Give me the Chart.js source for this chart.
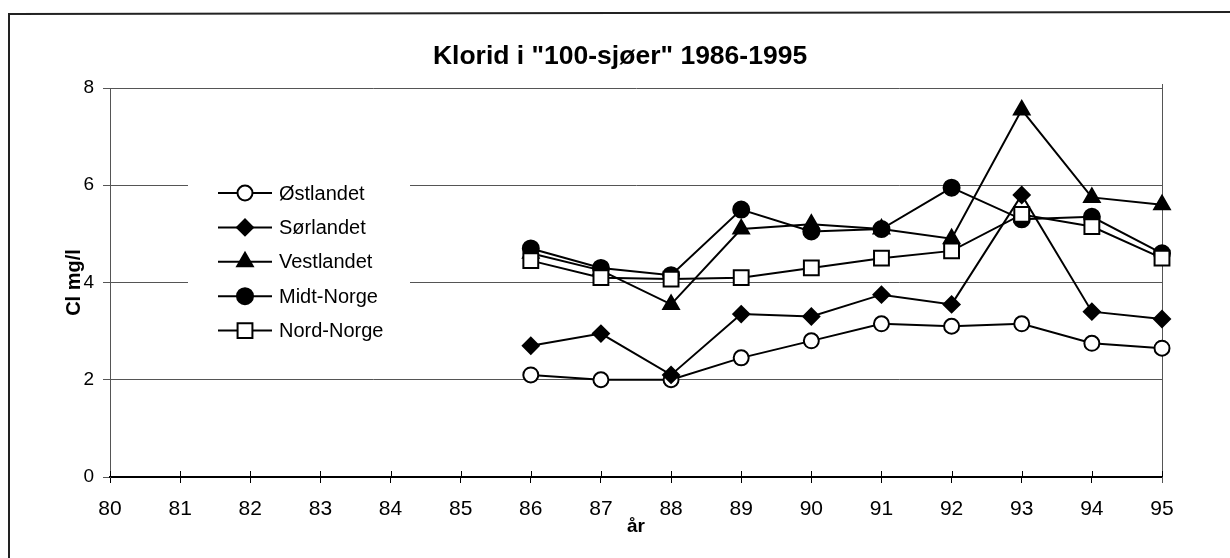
<!DOCTYPE html>
<html>
<head>
<meta charset="utf-8">
<script src="https://cdn.jsdelivr.net/npm/chart.js@4/dist/chart.umd.min.js"></script>
<style>
  html, body { margin: 0; padding: 0; background: #fff; }
  #wrap { position: relative; width: 1230px; height: 558px; }
</style>
</head>
<body>
<div id="wrap"><canvas id="c" width="1230" height="558"></canvas></div>
<script>
const chartTitle = 'Klorid i "100-sjøer" 1986-1995';
const years = ['80','81','82','83','84','85','86','87','88','89','90','91','92','93','94','95'];
const seriesNames = ['Østlandet', 'Sørlandet', 'Vestlandet', 'Midt-Norge', 'Nord-Norge'];
const ostlandet  = [null,null,null,null,null,null, 2.1, 2.0, 2.0, 2.45, 2.8, 3.15, 3.1, 3.15, 2.75, 2.65];
const sorlandet  = [null,null,null,null,null,null, 2.7, 2.95, 2.1, 3.35, 3.3, 3.75, 3.55, 5.8, 3.4, 3.25];
const vestlandet = [null,null,null,null,null,null, 4.6, 4.25, 3.55, 5.1, 5.2, 5.1, 4.9, 7.55, 5.75, 5.6];
const midtNorge  = [null,null,null,null,null,null, 4.7, 4.3, 4.15, 5.5, 5.05, 5.1, 5.95, 5.3, 5.35, 4.6];
const nordNorge  = [null,null,null,null,null,null, 4.45, 4.1, 4.07, 4.1, 4.3, 4.5, 4.65, 5.4, 5.15, 4.5];
const yTicks = [0, 2, 4, 6, 8];

const styles = [
  { pointStyle: 'circle',   radius: 7.5, bg: '#ffffff' },
  { pointStyle: 'rectRot',  radius: 8,   bg: '#000000' },
  { pointStyle: 'triangle', radius: 9,   bg: '#000000' },
  { pointStyle: 'circle',   radius: 8,   bg: '#000000' },
  { pointStyle: 'rect',     radius: 10.5, bg: '#ffffff' }
];
const allData = [ostlandet, sorlandet, vestlandet, midtNorge, nordNorge];

const datasets = allData.map((d, i) => ({
  label: seriesNames[i],
  data: d,
  borderColor: '#000',
  borderWidth: 2,
  backgroundColor: styles[i].bg,
  pointStyle: styles[i].pointStyle,
  pointRadius: styles[i].radius,
  pointBorderWidth: 2,
  pointBorderColor: '#000',
  pointBackgroundColor: styles[i].bg,
  tension: 0,
  spanGaps: false,
  order: 5 - i
}));

const FONT = "'Liberation Sans', Arial, sans-serif";

const framePlugin = {
  id: 'framePlugin',
  beforeDraw(chart) {
    const ctx = chart.ctx;
    ctx.save();
    ctx.fillStyle = '#fff';
    ctx.fillRect(0, 0, chart.width, chart.height);
    ctx.strokeStyle = '#222';
    ctx.lineWidth = 2;
    ctx.beginPath();
    ctx.moveTo(9, chart.height + 2);
    ctx.lineTo(9, 14);
    ctx.lineTo(chart.width + 2, 12);
    ctx.stroke();
    ctx.restore();
  },
  beforeDatasetsDraw(chart) {
    const ctx = chart.ctx;
    const a = chart.chartArea;
    const xs = chart.scales.x;
    ctx.save();
    ctx.strokeStyle = '#555';
    ctx.lineWidth = 1;
    ctx.beginPath();
    ctx.moveTo(Math.round(a.right) + 0.5, a.top - 4);
    ctx.lineTo(Math.round(a.right) + 0.5, a.bottom + 6);
    ctx.stroke();
    ctx.strokeStyle = '#000';
    ctx.beginPath();
    for (let i = 0; i < years.length; i++) {
      const px = Math.round(xs.getPixelForValue(i)) + 0.5;
      ctx.moveTo(px, a.bottom);
      ctx.lineTo(px, a.bottom - 6);
    }
    ctx.stroke();
    const lx = 188, ly = 166, lw = 222, lh = 186;
    ctx.fillStyle = '#fff';
    ctx.fillRect(lx, ly, lw, lh);
    ctx.restore();
  },
  afterDraw(chart) {
    const ctx = chart.ctx;
    ctx.save();
    // title
    ctx.fillStyle = '#000';
    ctx.font = "bold 26.5px " + FONT;
    ctx.textAlign = 'center';
    ctx.textBaseline = 'middle';
    ctx.fillText(chartTitle, 620, 57);
    // legend
    const x0 = 218, x1 = 272, mx = 245, tx = 279;
    const y0 = 193, dy = 34.4;
    ctx.font = "20px " + FONT;
    ctx.textBaseline = 'middle';
    ctx.textAlign = 'left';
    seriesNames.forEach((name, i) => {
      const y = y0 + i * dy;
      ctx.strokeStyle = '#000';
      ctx.lineWidth = 2;
      ctx.beginPath();
      ctx.moveTo(x0, y);
      ctx.lineTo(x1, y);
      ctx.stroke();
      ctx.fillStyle = styles[i].bg;
      ctx.strokeStyle = '#000';
      ctx.lineWidth = 2;
      Chart.helpers.drawPoint(ctx, { pointStyle: styles[i].pointStyle, radius: styles[i].radius, rotation: 0, borderWidth: 2 }, mx, y);
      ctx.fillStyle = '#000';
      ctx.fillText(name, tx, y + 1);
    });
    ctx.restore();
  }
};

new Chart(document.getElementById('c'), {
  type: 'line',
  data: { labels: years, datasets },
  options: {
    responsive: false,
    animation: false,
    devicePixelRatio: 1,
    layout: { padding: { left: 10, right: 68, top: 88, bottom: 20 } },
    plugins: {
      legend: { display: false },
      tooltip: { enabled: false },
      title: { display: false }
    },
    scales: {
      x: {
        type: 'category',
        offset: false,
        grid: { display: true, drawOnChartArea: false, drawTicks: true, tickLength: 6, color: '#000', lineWidth: 1 },
        border: { display: true, color: '#000', width: 2 },
        ticks: { color: '#000', font: { family: FONT, size: 21 }, padding: 14, maxRotation: 0, autoSkip: false },
        title: { display: true, text: 'år', color: '#000', font: { family: FONT, size: 19, weight: 'bold', lineHeight: 1.2 }, padding: { top: 0, bottom: 0 } },
        afterFit(scale) { scale.height = 61; }
      },
      y: {
        min: 0, max: 8,
        afterBuildTicks(scale) { scale.ticks = yTicks.map(v => ({ value: v })); },
        grid: { display: true, drawOnChartArea: true, drawTicks: true, tickLength: 7, color: '#555', lineWidth: 1 },
        border: { display: true, color: '#555', width: 1 },
        ticks: { color: '#000', font: { family: FONT, size: 19 }, padding: 9 },
        title: { display: true, text: 'Cl mg/l', color: '#000', font: { family: FONT, size: 20, weight: 'bold', lineHeight: 1.2 }, padding: { top: 52, bottom: 0 } },
        afterFit(scale) { scale.width = 100; }
      }
    }
  },
  plugins: [framePlugin]
});
</script>
</body>
</html>
